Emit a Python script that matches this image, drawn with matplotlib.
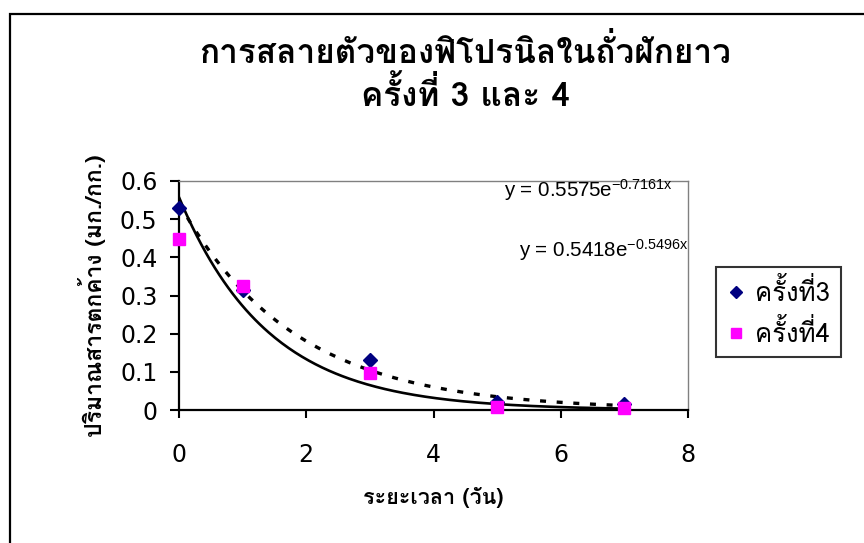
import numpy as np
import matplotlib
matplotlib.use("Agg")
import matplotlib.pyplot as plt
from matplotlib.patches import Rectangle

thai = ['Loma', 'IBM Plex Sans Thai Looped', 'DejaVu Sans']
plt.rcParams['font.family'] = thai
plt.rcParams['mathtext.fontset'] = 'custom'
plt.rcParams['mathtext.rm'] = 'Liberation Sans'
plt.rcParams['mathtext.it'] = 'Liberation Sans'
plt.rcParams['mathtext.default'] = 'regular'

# data
days = [0, 1, 3, 5, 7]
round3 = [0.529, 0.314, 0.131, 0.02, 0.015]
round4 = [0.448, 0.325, 0.097, 0.008, 0.005]

# trendline equations shown on the chart
fit3_a, fit3_b = 0.5418, -0.5496   # dashed
fit4_a, fit4_b = 0.5575, -0.7161   # solid

title1 = "การสลายตัวของฟิโปรนิลในถั่วฝักยาว"
title2 = "ครั้งที่ 3 และ 4"
xlabel = "ระยะเวลา (วัน)"
ylabel = "ปริมาณสารตกค้าง (มก./กก.)"
labels = ["ครั้งที่3", "ครั้งที่4"]

W, H = 864, 543
fig = plt.figure(figsize=(W / 100, H / 100), dpi=100)

def fx(px):
    return px / W

def fy(py):
    return 1 - py / H

# outer chart border (open to the right and bottom)
fig.add_artist(Rectangle((fx(10), fy(560)), fx(900) - fx(10), fy(14) - fy(560),
                         transform=fig.transFigure, fill=False, ec='black', lw=1.6))

ax = fig.add_axes([fx(179), fy(410), fx(688) - fx(179), fy(181) - fy(410)])

xs = np.linspace(0, 7, 200)
ax.plot(xs, fit4_a * np.exp(fit4_b * xs), color='black', lw=1.9, zorder=2)
ax.plot(xs, fit3_a * np.exp(fit3_b * xs), color='black', lw=2.4,
        linestyle=(0, (1.8, 3.2)), zorder=2)

ax.plot(days, round3, linestyle='none', marker='D', ms=6.8, color='#000080',
        label=labels[0], zorder=3, clip_on=False)
ax.plot(days, round4, linestyle='none', marker='s', ms=8.5, color='#FF00FF',
        label=labels[1], zorder=4, clip_on=False)

ax.set_xlim(0, 8)
ax.set_ylim(0, 0.6)
ax.set_xticks([0, 2, 4, 6, 8])
ax.set_yticks([0, 0.1, 0.2, 0.3, 0.4, 0.5, 0.6])
ax.set_yticklabels(['0', '0.1', '0.2', '0.3', '0.4', '0.5', '0.6'])
for t in ax.get_xticklabels() + ax.get_yticklabels():
    t.set_fontfamily('DejaVu Sans')
ax.tick_params(axis='both', labelsize=17, direction='out', width=1.5, color='black')
ax.tick_params(axis='y', length=6.5, pad=9)
ax.tick_params(axis='x', length=6, pad=18)

ax.spines['left'].set_linewidth(1.6)
ax.spines['bottom'].set_linewidth(1.6)
for s in ('top', 'right'):
    ax.spines[s].set_color('#808080')
    ax.spines[s].set_linewidth(1.0)

ax.set_xlabel(xlabel, fontsize=15.5, fontweight='bold')
ax.xaxis.set_label_coords(0.5, (410 - 497) / 229)
ax.xaxis.label.set_va('center')
ax.set_ylabel(ylabel, fontsize=16.5, fontweight='bold')
ax.yaxis.set_label_coords((92 - 179) / 509, (410 - 296) / 229)
ax.yaxis.label.set_va('center')

fig.text(fx(673), fy(197), r'y = 0.5575e$^{-0.7161x}$', ha='right', va='baseline',
         fontsize=14.8, family='Liberation Sans')
fig.text(fx(688), fy(257), r'y = 0.5418e$^{-0.5496x}$', ha='right', va='baseline',
         fontsize=14.8, family='Liberation Sans')

fig.text(fx(465), fy(63), title1, ha='center', va='baseline', fontsize=24, fontweight='bold')
fig.text(fx(465), fy(106), title2, ha='center', va='baseline', fontsize=24, fontweight='bold')

leg = fig.legend(loc='upper left', bbox_to_anchor=(fx(716), fy(267)), borderaxespad=0,
                 prop={'family': thai, 'size': 18.5}, frameon=True, fancybox=False,
                 edgecolor='black', handlelength=0.7, handletextpad=0.4,
                 labelspacing=0.5, borderpad=0.42, markerscale=0.85)
leg.get_frame().set_linewidth(1.5)

fig.savefig("out.png", dpi=100)
